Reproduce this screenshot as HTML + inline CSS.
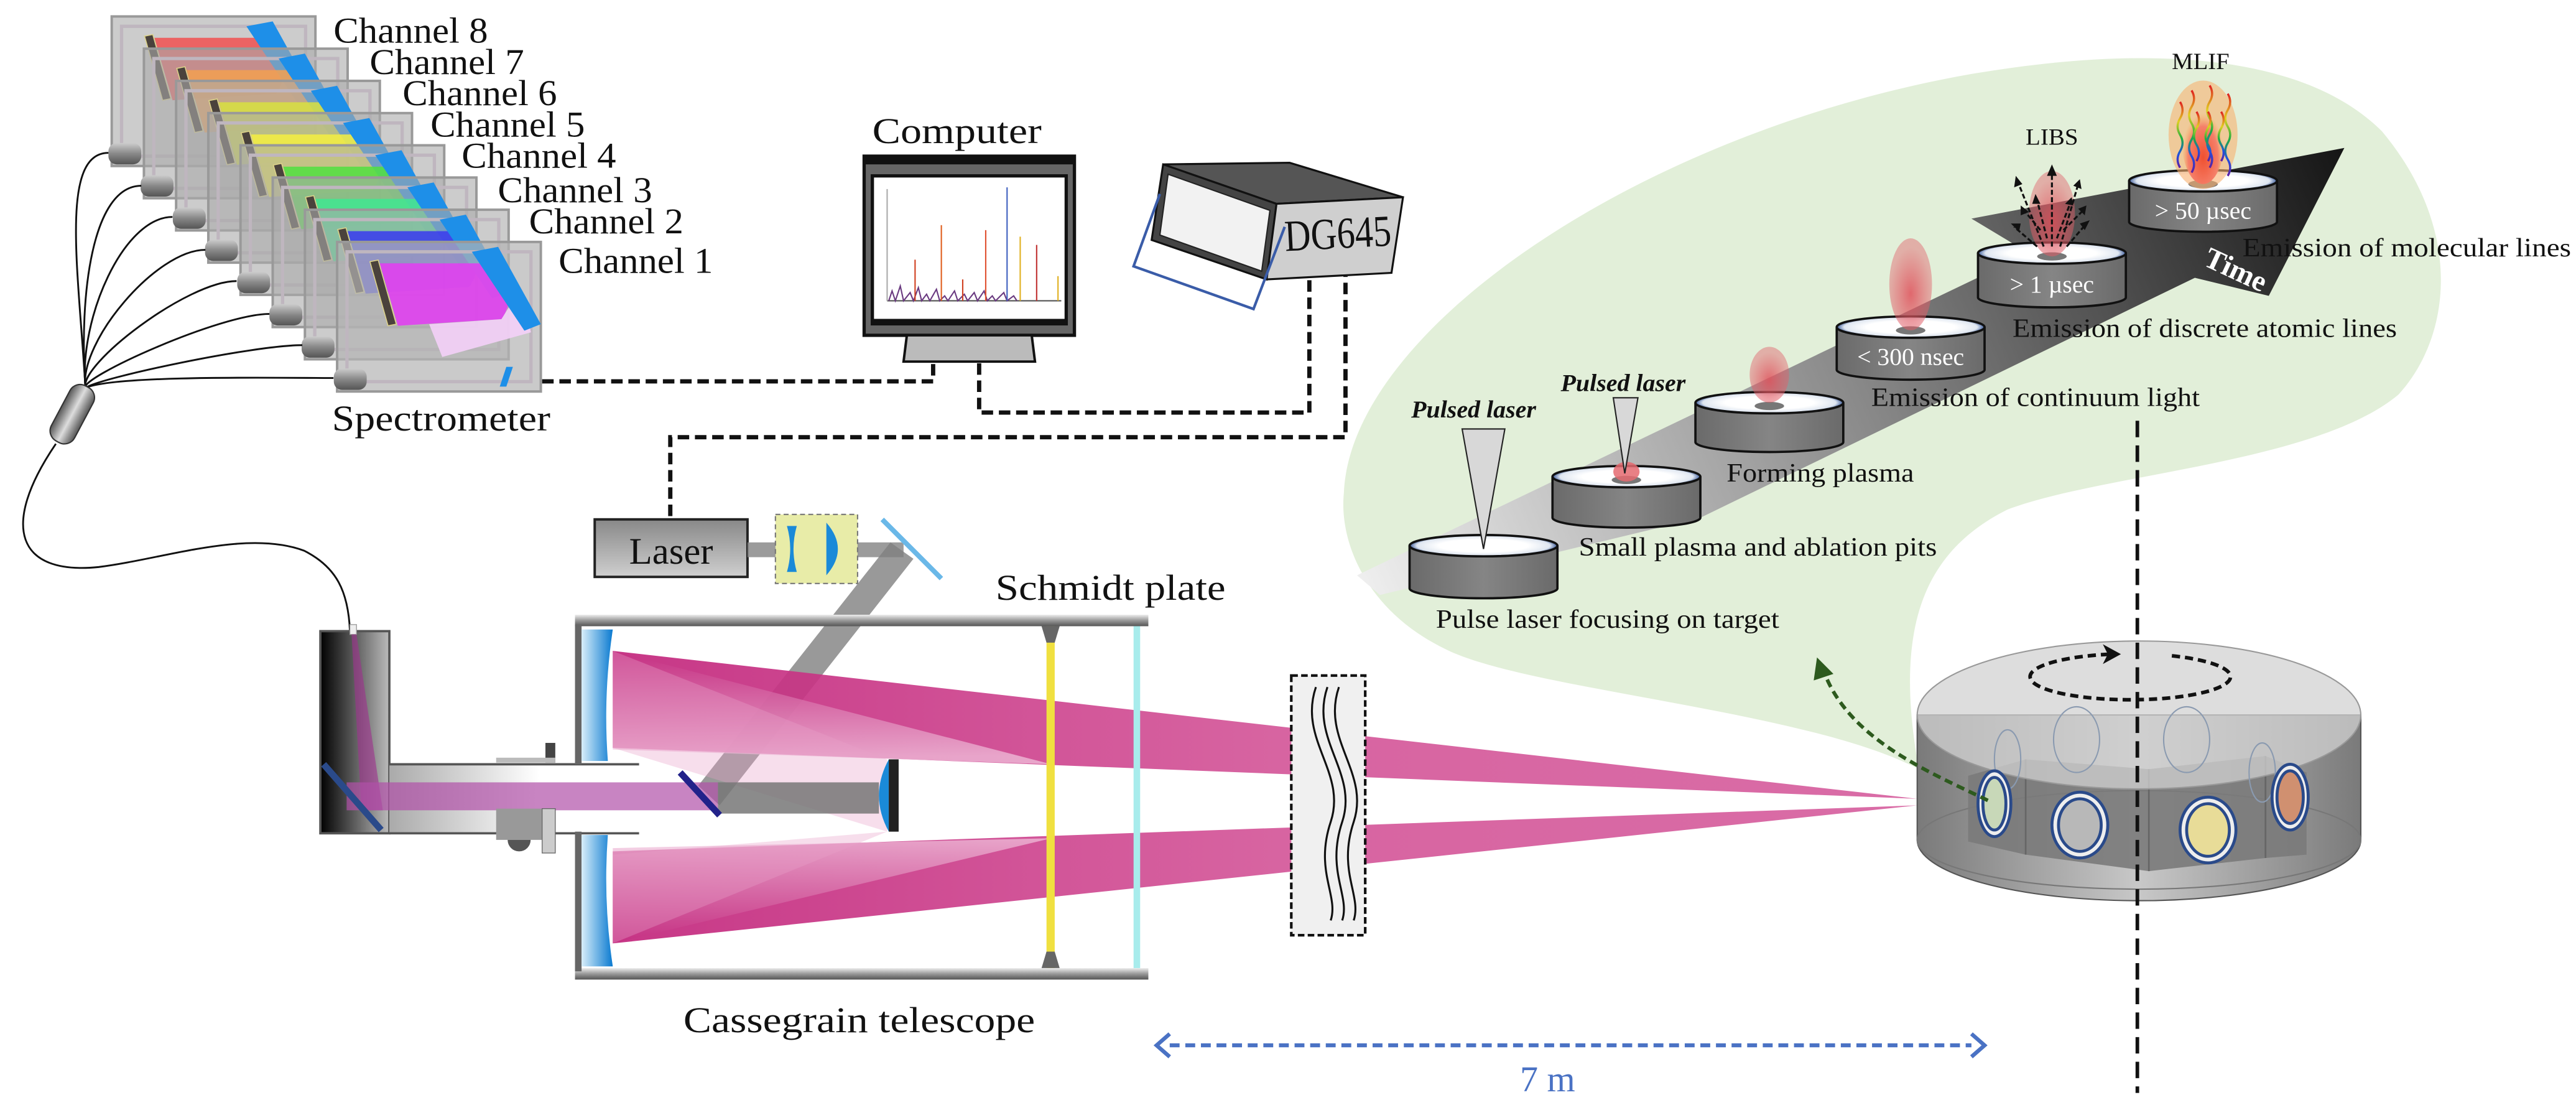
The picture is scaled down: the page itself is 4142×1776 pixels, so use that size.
<!DOCTYPE html>
<html><head><meta charset="utf-8"><style>
html,body{margin:0;padding:0;background:#fff}
svg{display:block}
svg text{font-family:"Liberation Serif","Times New Roman",serif}
</style></head><body>
<svg width="4142" height="1776" viewBox="0 0 1568 672.3" xmlns="http://www.w3.org/2000/svg" font-family="Liberation Serif, Times New Roman, serif">
<defs>
<linearGradient id="arrowG" x1="826" y1="350" x2="1427" y2="90" gradientUnits="userSpaceOnUse">
<stop offset="0" stop-color="#efefef"/><stop offset="0.5" stop-color="#888"/><stop offset="1" stop-color="#151515"/></linearGradient>
<linearGradient id="cylG" x1="0" y1="0" x2="1" y2="0"><stop offset="0" stop-color="#6a6a6a"/><stop offset="0.5" stop-color="#858585"/><stop offset="1" stop-color="#6a6a6a"/></linearGradient>
<radialGradient id="topG" cx="0.5" cy="0.5" r="0.5"><stop offset="0.6" stop-color="#fff"/><stop offset="0.9" stop-color="#dfe6f0"/><stop offset="1" stop-color="#3a5a9a"/></radialGradient>
<radialGradient id="plasma" cx="0.5" cy="0.6" r="0.5"><stop offset="0" stop-color="#e0505a" stop-opacity="0.85"/><stop offset="1" stop-color="#e0606a" stop-opacity="0.45"/></radialGradient>
<radialGradient id="mlifG" cx="0.5" cy="0.7" r="0.5"><stop offset="0" stop-color="#f05030"/><stop offset="0.7" stop-color="#f5806a"/><stop offset="1" stop-color="#f8b060" stop-opacity="0"/></radialGradient>
<linearGradient id="waveG" x1="0" y1="0" x2="0" y2="1"><stop offset="0" stop-color="#e02020"/><stop offset="0.3" stop-color="#e0d020"/><stop offset="0.55" stop-color="#20b040"/><stop offset="0.8" stop-color="#2050e0"/><stop offset="1" stop-color="#6020a0"/></linearGradient>
<linearGradient id="beamTop" x1="373" y1="0" x2="1167" y2="0" gradientUnits="userSpaceOnUse"><stop offset="0" stop-color="#c42c80" stop-opacity="0.95"/><stop offset="0.5" stop-color="#d04890" stop-opacity="0.85"/><stop offset="1" stop-color="#d04890" stop-opacity="0.8"/></linearGradient>
<linearGradient id="beamFadeT" x1="0" y1="396" x2="0" y2="460" gradientUnits="userSpaceOnUse"><stop offset="0" stop-color="#c42c80"/><stop offset="1" stop-color="#f2c8e0"/></linearGradient>
<linearGradient id="beamFadeB" x1="0" y1="574" x2="0" y2="510" gradientUnits="userSpaceOnUse"><stop offset="0" stop-color="#c42c80"/><stop offset="1" stop-color="#f2c8e0"/></linearGradient>
<linearGradient id="eyeV" x1="0" y1="0" x2="1" y2="0"><stop offset="0" stop-color="#000"/><stop offset="1" stop-color="#bbb"/></linearGradient>
<linearGradient id="eyeH" x1="0" y1="0" x2="1" y2="0"><stop offset="0" stop-color="#aaa"/><stop offset="0.6" stop-color="#fff"/></linearGradient>
<linearGradient id="primG" x1="0" y1="0" x2="1" y2="0"><stop offset="0" stop-color="#d8eefa"/><stop offset="1" stop-color="#0a7ad0"/></linearGradient>
<linearGradient id="laserG" x1="0" y1="0" x2="0" y2="1"><stop offset="0" stop-color="#888"/><stop offset="1" stop-color="#cfcfcf"/></linearGradient>
<linearGradient id="barG" x1="0" y1="0" x2="0" y2="1"><stop offset="0" stop-color="#eee"/><stop offset="0.5" stop-color="#999"/><stop offset="1" stop-color="#555"/></linearGradient>
<linearGradient id="tcylSide" x1="0" y1="0" x2="1" y2="0"><stop offset="0" stop-color="#7a7a7a"/><stop offset="0.5" stop-color="#c8c8c8"/><stop offset="1" stop-color="#7a7a7a"/></linearGradient>
<linearGradient id="capG" x1="0" y1="0" x2="1" y2="0"><stop offset="0" stop-color="#555"/><stop offset="0.5" stop-color="#ddd"/><stop offset="1" stop-color="#555"/></linearGradient>
<linearGradient id="connG" x1="0" y1="0" x2="0" y2="1"><stop offset="0" stop-color="#ccc"/><stop offset="0.5" stop-color="#888"/><stop offset="1" stop-color="#555"/></linearGradient>
</defs>

<!-- green blob -->
<path d="M1168,468 C1100,432 930,420 880,395 C832,372 815,330 818,300 C822,200 1000,80 1200,45 C1300,28 1400,30 1450,80 C1500,140 1492,205 1460,240 C1410,282 1280,288 1222,310 C1172,335 1152,380 1168,468 Z" fill="#e2efd9"/>

<!-- time arrow -->
<polygon points="826,350 1235,154 1200,133 1427,90 1381,180 1336,169 1035,315 840,362" fill="url(#arrowG)"/>

<!-- step cylinders -->
<g stroke="#111" stroke-width="1.4">
<g transform="translate(903,0)"><path d="M-45,332 V358 A45,6 0 0 0 45,358 V332" fill="url(#cylG)"/><ellipse cx="0" cy="332" rx="45" ry="6.5" fill="url(#topG)"/></g>
<g transform="translate(990,0)"><path d="M-45,290 V315 A45,6 0 0 0 45,315 V290" fill="url(#cylG)"/><ellipse cx="0" cy="290" rx="45" ry="6.5" fill="url(#topG)"/></g>
<g transform="translate(1077,0)"><path d="M-45,245 V269 A45,6 0 0 0 45,269 V245" fill="url(#cylG)"/><ellipse cx="0" cy="245" rx="45" ry="6.5" fill="url(#topG)"/></g>
<g transform="translate(1163,0)"><path d="M-45,199 V225 A45,6 0 0 0 45,225 V199" fill="url(#cylG)"/><ellipse cx="0" cy="199" rx="45" ry="6.5" fill="url(#topG)"/></g>
<g transform="translate(1249,0)"><path d="M-45,154 V181 A45,6 0 0 0 45,181 V154" fill="url(#cylG)"/><ellipse cx="0" cy="154" rx="45" ry="6.5" fill="url(#topG)"/></g>
<g transform="translate(1341,0)"><path d="M-45,110 V135 A45,6 0 0 0 45,135 V110" fill="url(#cylG)"/><ellipse cx="0" cy="110" rx="45" ry="6.5" fill="url(#topG)"/></g>
</g>
<g fill="#777"><ellipse cx="990" cy="292" rx="9" ry="2.5"/><ellipse cx="1077" cy="247" rx="9" ry="2.5"/><ellipse cx="1163" cy="201" rx="9" ry="2.5"/><ellipse cx="1249" cy="156" rx="9" ry="2.5"/><ellipse cx="1341" cy="112" rx="9" ry="2.5"/></g>
<ellipse cx="990" cy="287" rx="8" ry="6" fill="#e56a70" opacity="0.85"/>
<ellipse cx="1077" cy="228" rx="12" ry="17" fill="url(#plasma)"/>
<ellipse cx="1163" cy="173" rx="13" ry="28" fill="url(#plasma)"/>
<ellipse cx="1249" cy="130" rx="14" ry="26" fill="url(#plasma)"/>
<ellipse cx="1341" cy="82" rx="21" ry="33" fill="#f8b070" opacity="0.6"/>
<ellipse cx="1341" cy="85" rx="13" ry="27" fill="url(#mlifG)"/>
<g stroke="#111" stroke-width="1.2" stroke-dasharray="3 1.5" fill="none">
<path d="M1249,150 L1249,104"/><path d="M1244,150 L1228,110"/><path d="M1254,150 L1265,112"/><path d="M1240,150 L1226,138"/><path d="M1258,150 L1270,136"/><path d="M1246,145 L1240,122"/><path d="M1252,145 L1260,124"/><path d="M1242,140 L1232,128"/><path d="M1256,140 L1268,128"/>
</g>
<g fill="#111">
<polygon points="1249,100 1246,107 1252,107"/><polygon points="1227,107 1226,114 1231,112"/><polygon points="1266,109 1262,113 1267,115"/><polygon points="1224,136 1229,141 1230,136"/><polygon points="1272,134 1266,136 1269,140"/><polygon points="1239,118 1237,124 1242,124"/><polygon points="1261,120 1257,124 1262,125"/><polygon points="1230,125 1230,131 1235,129"/><polygon points="1270,125 1265,127 1269,131"/>
</g>
<g fill="none" stroke="url(#waveG)" stroke-width="1.3">
<path d="M1327,62 q3,5 0,10 q-3,5 0,10 q3,5 0,10 q-3,5 0,10"/>
<path d="M1334,55 q3,5 0,10 q-3,5 0,10 q3,5 0,10 q-3,5 0,10 q3,5 0,10"/>
<path d="M1345,52 q3,5 0,10 q-3,5 0,10 q3,5 0,10 q-3,5 0,10 q3,5 0,10"/>
<path d="M1356,57 q3,5 0,10 q-3,5 0,10 q3,5 0,10 q-3,5 0,10 q3,5 0,10"/>
<path d="M1337,68 q3,5 0,10 q-3,5 0,10 q3,5 0,10"/>
<path d="M1344,68 q3,5 0,10 q-3,5 0,10 q3,5 0,10"/>
<path d="M1352,68 q3,5 0,10 q-3,5 0,10 q3,5 0,10"/>
</g>
<polygon points="890,261 916,261 903,334" fill="#d8d8d8" stroke="#222" stroke-width="0.8"/>
<polygon points="982,242 997,242 989,288" fill="#d8d8d8" stroke="#222" stroke-width="0.8"/>

<g font-size="16" fill="#111">
<text x="874" y="382" textLength="209" lengthAdjust="spacingAndGlyphs">Pulse laser focusing on target</text>
<text x="961" y="338" textLength="218" lengthAdjust="spacingAndGlyphs">Small plasma and ablation pits</text>
<text x="1051" y="293" textLength="114" lengthAdjust="spacingAndGlyphs">Forming plasma</text>
<text x="1139" y="247" textLength="200" lengthAdjust="spacingAndGlyphs">Emission of continuum light</text>
<text x="1225" y="205" textLength="234" lengthAdjust="spacingAndGlyphs">Emission of discrete atomic lines</text>
<text x="1365" y="156" textLength="200" lengthAdjust="spacingAndGlyphs">Emission of molecular lines</text>
<text x="1233" y="88" textLength="32" lengthAdjust="spacingAndGlyphs" font-size="14">LIBS</text>
<text x="1322" y="42" textLength="35" lengthAdjust="spacingAndGlyphs" font-size="14">MLIF</text>
<text x="859" y="254" font-style="italic" font-weight="bold" textLength="76" lengthAdjust="spacingAndGlyphs" font-size="15">Pulsed laser</text>
<text x="950" y="238" font-style="italic" font-weight="bold" textLength="76" lengthAdjust="spacingAndGlyphs" font-size="15">Pulsed laser</text>
</g>
<g font-size="15" fill="#fff" text-anchor="middle">
<text x="1163" y="222">&lt; 300 nsec</text>
<text x="1249" y="178">&gt; 1 µsec</text>
<text x="1341" y="133">&gt; 50 µsec</text>
</g>
<text x="1361" y="170" font-size="18" font-weight="bold" fill="#fff" text-anchor="middle" transform="rotate(25 1361 164)">Time</text>

<!-- spectrometer channels -->
<g>
<g transform="translate(68,10)"><rect x="0" y="0" width="124" height="91" fill="#aaa" fill-opacity="0.6" stroke="#999" stroke-width="1.5"/><rect x="6" y="6" width="112" height="79" fill="none" stroke="#bfb6bf" stroke-width="2"/><path d="M26,13 L93,13 Q112,30 100,47 L37,51 Z" fill="#f05050" opacity="0.85"/><polygon points="82,6 98,3 124,50 114,54" fill="#1e8fe8"/><polygon points="20,12 25,11 36,50 31,51" fill="#4a423c" stroke="#ddd38a" stroke-width="0.6"/><rect x="-2" y="77" width="20" height="13" rx="5" fill="url(#connG)"/></g>
<g transform="translate(87.6,29.6)"><rect x="0" y="0" width="124" height="91" fill="#aaa" fill-opacity="0.6" stroke="#999" stroke-width="1.5"/><rect x="6" y="6" width="112" height="79" fill="none" stroke="#bfb6bf" stroke-width="2"/><path d="M26,13 L93,13 Q112,30 100,47 L37,51 Z" fill="#f3a050" opacity="0.85"/><polygon points="82,6 98,3 124,50 114,54" fill="#1e8fe8"/><polygon points="20,12 25,11 36,50 31,51" fill="#4a423c" stroke="#ddd38a" stroke-width="0.6"/><rect x="-2" y="77" width="20" height="13" rx="5" fill="url(#connG)"/></g>
<g transform="translate(107.2,49.2)"><rect x="0" y="0" width="124" height="91" fill="#aaa" fill-opacity="0.6" stroke="#999" stroke-width="1.5"/><rect x="6" y="6" width="112" height="79" fill="none" stroke="#bfb6bf" stroke-width="2"/><path d="M26,13 L93,13 Q112,30 100,47 L37,51 Z" fill="#d8e040" opacity="0.85"/><polygon points="82,6 98,3 124,50 114,54" fill="#1e8fe8"/><polygon points="20,12 25,11 36,50 31,51" fill="#4a423c" stroke="#ddd38a" stroke-width="0.6"/><rect x="-2" y="77" width="20" height="13" rx="5" fill="url(#connG)"/></g>
<g transform="translate(126.8,68.8)"><rect x="0" y="0" width="124" height="91" fill="#aaa" fill-opacity="0.6" stroke="#999" stroke-width="1.5"/><rect x="6" y="6" width="112" height="79" fill="none" stroke="#bfb6bf" stroke-width="2"/><path d="M26,13 L93,13 Q112,30 100,47 L37,51 Z" fill="#f4f040" opacity="0.85"/><polygon points="82,6 98,3 124,50 114,54" fill="#1e8fe8"/><polygon points="20,12 25,11 36,50 31,51" fill="#4a423c" stroke="#ddd38a" stroke-width="0.6"/><rect x="-2" y="77" width="20" height="13" rx="5" fill="url(#connG)"/></g>
<g transform="translate(146.4,88.4)"><rect x="0" y="0" width="124" height="91" fill="#aaa" fill-opacity="0.6" stroke="#999" stroke-width="1.5"/><rect x="6" y="6" width="112" height="79" fill="none" stroke="#bfb6bf" stroke-width="2"/><path d="M26,13 L93,13 Q112,30 100,47 L37,51 Z" fill="#50e040" opacity="0.85"/><polygon points="82,6 98,3 124,50 114,54" fill="#1e8fe8"/><polygon points="20,12 25,11 36,50 31,51" fill="#4a423c" stroke="#ddd38a" stroke-width="0.6"/><rect x="-2" y="77" width="20" height="13" rx="5" fill="url(#connG)"/></g>
<g transform="translate(166,108)"><rect x="0" y="0" width="124" height="91" fill="#aaa" fill-opacity="0.6" stroke="#999" stroke-width="1.5"/><rect x="6" y="6" width="112" height="79" fill="none" stroke="#bfb6bf" stroke-width="2"/><path d="M26,13 L93,13 Q112,30 100,47 L37,51 Z" fill="#40e890" opacity="0.85"/><polygon points="82,6 98,3 124,50 114,54" fill="#1e8fe8"/><polygon points="20,12 25,11 36,50 31,51" fill="#4a423c" stroke="#ddd38a" stroke-width="0.6"/><rect x="-2" y="77" width="20" height="13" rx="5" fill="url(#connG)"/></g>
<g transform="translate(185.6,127.6)"><rect x="0" y="0" width="124" height="91" fill="#aaa" fill-opacity="0.6" stroke="#999" stroke-width="1.5"/><rect x="6" y="6" width="112" height="79" fill="none" stroke="#bfb6bf" stroke-width="2"/><path d="M26,13 L93,13 Q112,30 100,47 L37,51 Z" fill="#3838f0" opacity="0.85"/><polygon points="82,6 98,3 124,50 114,54" fill="#1e8fe8"/><polygon points="20,12 25,11 36,50 31,51" fill="#4a423c" stroke="#ddd38a" stroke-width="0.6"/><rect x="-2" y="77" width="20" height="13" rx="5" fill="url(#connG)"/></g>
<g transform="translate(205.2,147.2)"><rect x="0" y="0" width="124" height="91" fill="#b4b4b4" fill-opacity="0.7" stroke="#999" stroke-width="1.5"/><rect x="6" y="6" width="112" height="79" fill="none" stroke="#bfb6bf" stroke-width="2"/><path d="M26,13 L93,13 Q112,30 100,47 L37,51 Z" fill="#e040f0" opacity="0.9"/><polygon points="56,50 100,47 112,28 118,55 64,70" fill="#f4d0f8" opacity="0.9"/><polygon points="82,6 98,3 124,50 114,54" fill="#1e8fe8"/><polygon points="103,76 107,76 103,88 99,88" fill="#1e8fe8"/><polygon points="20,12 25,11 36,50 31,51" fill="#4a423c" stroke="#ddd38a" stroke-width="0.6"/><rect x="-2" y="77" width="20" height="13" rx="5" fill="url(#connG)"/></g>
</g>
<g fill="none" stroke="#111" stroke-width="1.1">
<path d="M52,236 C48,166 36,93 66,93"/>
<path d="M52,236 C48,180 56,113 86,113"/>
<path d="M52,236 C48,194 75,132 105,132"/>
<path d="M52,236 C48,208 95,152 125,152"/>
<path d="M52,236 C48,222 114,171 144,171"/>
<path d="M52,236 C48,230 134,191 164,191"/>
<path d="M52,236 C60,230 154,210 184,210"/>
<path d="M52,236 C70,228 173,230 203,230"/>
<path d="M34,270 C0,320 10,350 60,345 C100,340 150,322 185,335 C205,345 212,360 213,384"/>
</g>
<rect x="36" y="233" width="16" height="38" rx="7" fill="url(#capG)" stroke="#333" stroke-width="0.8" transform="rotate(28 44 252)"/>
<g font-size="22" fill="#111">
<text x="203" y="26" textLength="94" lengthAdjust="spacingAndGlyphs">Channel 8</text>
<text x="225" y="45" textLength="94" lengthAdjust="spacingAndGlyphs">Channel 7</text>
<text x="245" y="64" textLength="94" lengthAdjust="spacingAndGlyphs">Channel 6</text>
<text x="262" y="83" textLength="94" lengthAdjust="spacingAndGlyphs">Channel 5</text>
<text x="281" y="102" textLength="94" lengthAdjust="spacingAndGlyphs">Channel 4</text>
<text x="303" y="123" textLength="94" lengthAdjust="spacingAndGlyphs">Channel 3</text>
<text x="322" y="142" textLength="94" lengthAdjust="spacingAndGlyphs">Channel 2</text>
<text x="340" y="166" textLength="94" lengthAdjust="spacingAndGlyphs">Channel 1</text>
<text x="202" y="262" textLength="133" lengthAdjust="spacingAndGlyphs">Spectrometer</text>
<text x="531" y="87" textLength="103" lengthAdjust="spacingAndGlyphs">Computer</text>
</g>

<g fill="none" stroke="#111" stroke-width="2.6" stroke-dasharray="7 3.5">
<path d="M330,232 H568 V221"/>
<path d="M596,221 V251 H797 V170"/>
<path d="M408,314 V266 H819 V168"/>
</g>

<rect x="526" y="95" width="128" height="109" fill="#666" stroke="#111" stroke-width="2"/>
<rect x="526" y="95" width="128" height="5" fill="#111"/>
<rect x="530" y="106" width="120" height="92" fill="#111"/>
<rect x="532" y="108" width="116" height="86" fill="#fff"/>
<polygon points="552,204 628,204 630,220 550,220" fill="#bbb" stroke="#111" stroke-width="1.5"/>
<g stroke-width="0.8" fill="none">
<line x1="540" y1="183" x2="646" y2="183" stroke="#555"/>
<line x1="540" y1="115" x2="540" y2="183" stroke="#aaa"/>
<path d="M541,183 l2,-6 l2,6 l3,-9 l2,9 l4,-5 l2,5 l3,-8 l2,8 l3,-4 l2,4 l4,-7 l2,7 l3,-3 l2,3 l4,-6 l2,6 l4,-4 l2,4 l4,-5 l2,5 l4,-6 l2,6 l3,-3 l2,3 l5,-5 l2,5 l4,-3 l2,3" stroke="#6a3a80"/>
<line x1="557" y1="183" x2="557" y2="158" stroke="#d04020"/>
<line x1="573" y1="183" x2="573" y2="137" stroke="#e06020"/>
<line x1="586" y1="183" x2="586" y2="170" stroke="#d04020"/>
<line x1="600" y1="183" x2="600" y2="140" stroke="#e05030"/>
<line x1="613" y1="183" x2="613" y2="114" stroke="#4060c0"/>
<line x1="621" y1="183" x2="621" y2="144" stroke="#e0b020"/>
<line x1="631" y1="183" x2="631" y2="149" stroke="#c03030"/>
<line x1="644" y1="183" x2="644" y2="168" stroke="#e0b020"/>
</g>

<polygon points="708,100 785,99 854,120 777,124" fill="#555" stroke="#111" stroke-width="1.2"/>
<polygon points="708,100 777,124 771,170 701,146" fill="#444" stroke="#111" stroke-width="1.2"/>
<polygon points="711,106 773,128 768,165 706,143" fill="#f2f2f2" stroke="#222" stroke-width="0.8"/>
<polygon points="777,124 854,120 847,166 771,170" fill="#cfcfcf" stroke="#111" stroke-width="1.2"/>
<polyline points="706,118 690,162 763,188 782,138" fill="none" stroke="#3a5ca8" stroke-width="1.6"/>
<text x="782" y="151" font-size="27" fill="#111" textLength="65" lengthAdjust="spacingAndGlyphs" transform="rotate(-3 815 145)">DG645</text>

<rect x="362" y="316" width="93" height="35" fill="url(#laserG)" stroke="#222" stroke-width="1.5"/>
<text x="408.5" y="343" font-size="23" text-anchor="middle" fill="#111">Laser</text>
<rect x="455" y="330" width="95" height="9" fill="#8a8a8a" opacity="0.85"/>
<rect x="472" y="313" width="50" height="42" fill="#e8eca8" stroke="#777" stroke-width="0.8" stroke-dasharray="3 2"/>
<path d="M479,320 h6 q-4,14 0,28 h-6 q4,-14 0,-28 z" fill="#1a8ad8"/>
<path d="M503,318 q14,16 0,32 z" fill="#1a8ad8"/>
<line x1="537" y1="316" x2="573" y2="352" stroke="#6ab8e8" stroke-width="3"/>
<polygon points="542,330 556,340 438,490 425,478" fill="#808080" opacity="0.8"/>

<rect x="195" y="384" width="42" height="123" fill="url(#eyeV)" stroke="#555" stroke-width="1.4"/>
<rect x="237" y="465" width="152" height="42" fill="url(#eyeH)"/>
<line x1="237" y1="465" x2="389" y2="465" stroke="#555" stroke-width="1.4"/>
<line x1="237" y1="507" x2="389" y2="507" stroke="#555" stroke-width="1.4"/>
<rect x="213" y="380" width="4" height="6" fill="#eee" stroke="#999" stroke-width="0.5"/>
<polygon points="214,386 217,386 233,493 220,493" fill="#a03090" opacity="0.6"/>
<rect x="211" y="476" width="226" height="17" fill="#b050a8" opacity="0.7"/>
<line x1="197" y1="465" x2="232" y2="505" stroke="#2a4a8a" stroke-width="4"/>
<rect x="332" y="452" width="6" height="12" fill="#444"/>
<rect x="302" y="461" width="36" height="3" fill="#bbb"/>
<rect x="302" y="492" width="28" height="19" fill="#999"/>
<rect x="330" y="492" width="8" height="27" fill="#ccc" stroke="#666" stroke-width="0.5"/>
<path d="M309,511 a7,7 0 0 0 14,0 z" fill="#555"/>

<rect x="350" y="374" width="349" height="7" fill="url(#barG)"/>
<rect x="350" y="589" width="349" height="7" fill="url(#barG)"/>
<rect x="350" y="380" width="4" height="85" fill="#666"/>
<rect x="350" y="506" width="4" height="85" fill="#666"/>
<path d="M354,383 h19 q-6,40 -3,80 h-16 z" fill="url(#primG)"/>
<path d="M354,508 h16 q-3,40 3,80 h-19 z" fill="url(#primG)"/>

<polygon points="373,396 1167,486 373,455" fill="url(#beamTop)"/>
<polygon points="373,396 373,456 640,465" fill="url(#beamFadeT)" opacity="0.7"/>
<polygon points="373,574 1167,490 373,518" fill="url(#beamTop)"/>
<polygon points="373,574 373,516 640,510" fill="url(#beamFadeB)" opacity="0.7"/>
<polygon points="373,396 540,462 540,506 373,455" fill="#e8a0c8" opacity="0.35"/>
<polygon points="373,574 540,506 373,520" fill="#e8a0c8" opacity="0.35"/>

<rect x="437" y="476" width="98" height="19" fill="#777" opacity="0.85"/>
<line x1="414" y1="470" x2="438" y2="496" stroke="#22228a" stroke-width="4"/>
<path d="M541,462 q-12,22 0,44 z" fill="#1a8ad8"/>
<rect x="541" y="462" width="6" height="44" fill="#222"/>

<rect x="637" y="381" width="5" height="208" fill="#f0e040"/>
<path d="M634,381 h11 l-3,10 h-5 z" fill="#666"/>
<path d="M634,589 h11 l-3,-10 h-5 z" fill="#666"/>
<rect x="690" y="381" width="4" height="208" fill="#a8ecec"/>
<text x="606" y="365" font-size="22" fill="#111" textLength="140" lengthAdjust="spacingAndGlyphs">Schmidt plate</text>
<text x="416" y="628" font-size="22" fill="#111" textLength="214" lengthAdjust="spacingAndGlyphs">Cassegrain telescope</text>

<rect x="786" y="411" width="45" height="158" fill="#f0f0f0" stroke="#111" stroke-width="1.6" stroke-dasharray="4 2"/>
<g fill="none" stroke="#111" stroke-width="1.2">
<path d="M801,418 C790,450 820,470 810,500 C800,530 815,545 810,560"/>
<path d="M808,418 C797,450 827,470 817,500 C807,530 822,545 817,560"/>
<path d="M815,418 C804,450 834,470 824,500 C814,530 829,545 824,560" />
</g>

<path d="M1167,435 V511 A135,37 0 0 0 1437,511 V435 Z" fill="url(#tcylSide)" stroke="#555" stroke-width="0.8"/>
<ellipse cx="1302" cy="511" rx="135" ry="30" fill="none" stroke="#777" stroke-width="0.8"/>
<polygon points="1198,472 1233,462 1308,468 1379,460 1404,470 1404,520 1379,522 1308,530 1233,520 1198,512" fill="#7a7a7a" opacity="0.9"/>
<line x1="1308" y1="468" x2="1308" y2="530" stroke="#666"/>
<line x1="1233" y1="462" x2="1233" y2="520" stroke="#666"/>
<line x1="1379" y1="460" x2="1379" y2="522" stroke="#666"/>
<ellipse cx="1302" cy="435" rx="135" ry="45" fill="#d2d2d2" fill-opacity="0.75" stroke="#999" stroke-width="0.8"/>
<g fill="none" stroke="#8a9ab0" stroke-width="0.8"><ellipse cx="1264" cy="450" rx="14" ry="20"/><ellipse cx="1331" cy="450" rx="14" ry="20"/><ellipse cx="1377" cy="470" rx="8" ry="18"/><ellipse cx="1222" cy="462" rx="8" ry="18"/></g>
<g stroke="#2a4a8a" stroke-width="1.8">
<ellipse cx="1214" cy="489" rx="10" ry="20" fill="#eee"/><ellipse cx="1214" cy="489" rx="7" ry="16" fill="#c8d8b8"/>
<ellipse cx="1266" cy="502" rx="17" ry="20" fill="#eee"/><ellipse cx="1266" cy="502" rx="13" ry="16" fill="#b8b8b8"/>
<ellipse cx="1344" cy="505" rx="17" ry="20" fill="#eee"/><ellipse cx="1344" cy="505" rx="13" ry="16" fill="#e8dc98"/>
<ellipse cx="1394" cy="485" rx="11" ry="20" fill="#eee"/><ellipse cx="1394" cy="485" rx="8" ry="16" fill="#d09070"/>
</g>
<path d="M1322,399 A61,14 0 1 1 1285,398" fill="none" stroke="#111" stroke-width="2.2" stroke-dasharray="5 3"/>
<polygon points="1291,398 1280,392 1283,398 1280,404" fill="#111"/>

<line x1="1301" y1="256" x2="1301" y2="665" stroke="#111" stroke-width="2.2" stroke-dasharray="10 5"/>

<path d="M1210,487 C1175,470 1125,450 1110,408" fill="none" stroke="#2d5a1e" stroke-width="2.2" stroke-dasharray="5 3"/>
<polygon points="1106,400 1104,414 1116,410" fill="#2d5a1e"/>

<line x1="712" y1="636" x2="1200" y2="636" stroke="#4a72c4" stroke-width="2.4" stroke-dasharray="6 3.5"/>
<polyline points="712,629 704,636 712,643" fill="none" stroke="#4a72c4" stroke-width="2.4"/>
<polyline points="1200,629 1208,636 1200,643" fill="none" stroke="#4a72c4" stroke-width="2.4"/>
<text x="942" y="664" font-size="22" fill="#4a72c4" text-anchor="middle">7 m</text>
</svg>
</body></html>
